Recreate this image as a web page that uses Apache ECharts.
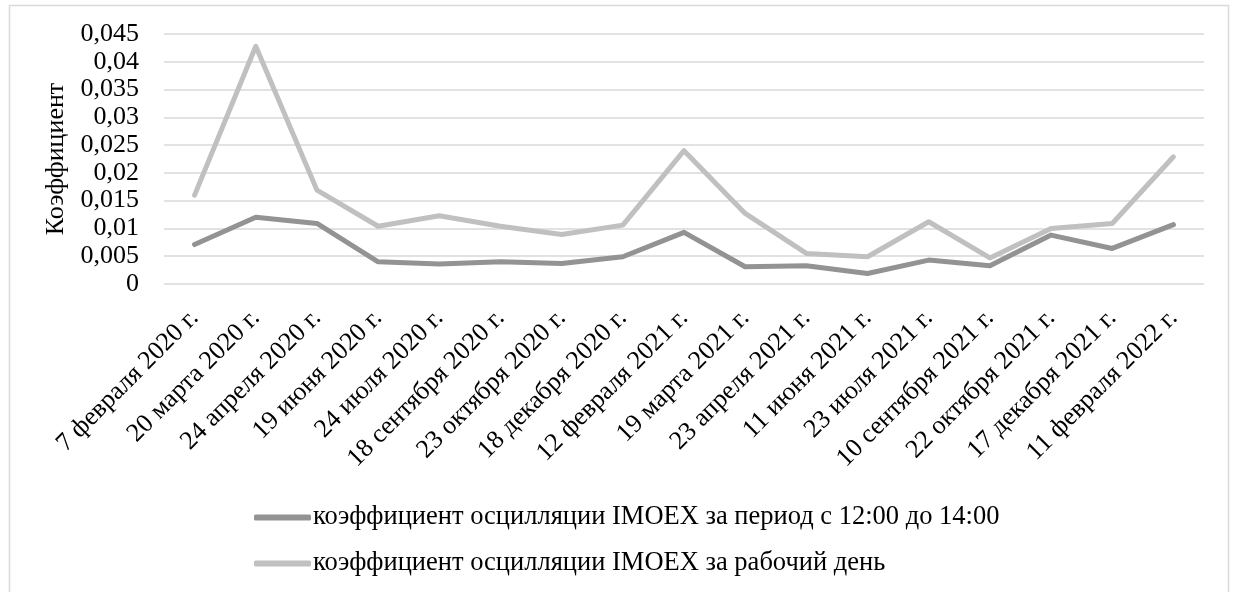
<!DOCTYPE html>
<html><head><meta charset="utf-8">
<script src="https://cdn.jsdelivr.net/npm/echarts@6/dist/echarts.min.js"></script>
<style>html,body{margin:0;padding:0;background:#fff}#c{width:1235px;height:592px}</style>
</head><body><div id="c"></div>
<script>
const categories = ["7 февраля 2020 г.","20 марта 2020 г.","24 апреля 2020 г.","19 июня 2020 г.","24 июля 2020 г.","18 сентября 2020 г.","23 октября 2020 г.","18 декабря 2020 г.","12 февраля 2021 г.","19 марта 2021 г.","23 апреля 2021 г.","11 июня 2021 г.","23 июля 2021 г.","10 сентября 2021 г.","22 октября 2021 г.","17 декабря 2021 г.","11 февраля 2022 г."];
const seriesNames = ["коэффициент осцилляции IMOEX за период с 12:00 до 14:00","коэффициент осцилляции IMOEX за рабочий день"];
const midday = [0.0071,0.0120,0.0109,0.0040,0.0036,0.0040,0.0037,0.0049,0.0093,0.0031,0.0033,0.0019,0.0043,0.0033,0.0088,0.0064,0.0107];
const fullDay = [0.0160,0.0428,0.0169,0.0104,0.0123,0.0104,0.0089,0.0106,0.0240,0.0127,0.0055,0.0049,0.0112,0.0047,0.0100,0.0109,0.0229];
const yAxisName = "Коэффициент";

const FONT = "Liberation Serif";
const FS = 26;
const chart = echarts.init(document.getElementById('c'));
chart.setOption({
  animation:false,
  backgroundColor:'#fff',
  graphic:[{type:'rect',shape:{x:9.5,y:5.5,width:1219,height:600},style:{fill:'none',stroke:'#d9d9d9',lineWidth:1.5}}],
  grid:{left:164,right:31,top:34,height:250},
  legend:{
    orient:'vertical',left:249,top:499,itemGap:19,itemWidth:57,itemHeight:6,
    icon:'roundRect',
    textStyle:{fontFamily:FONT,fontSize:26.5,color:'#000',padding:[0,0,0,-3]},
    data:seriesNames
  },
  xAxis:{type:'category',data:categories,boundaryGap:true,
    axisLine:{show:false},axisTick:{show:false},
    axisLabel:{interval:0,rotate:45,margin:30,fontFamily:FONT,fontSize:FS,color:'#000'}},
  yAxis:{type:'value',min:0,max:0.045,interval:0.005,
    name:yAxisName,nameLocation:'middle',nameRotate:90,nameGap:92,
    nameTextStyle:{fontFamily:FONT,fontSize:FS,color:'#000'},
    axisLine:{show:false},axisTick:{show:false},
    splitLine:{lineStyle:{color:'#d9d9d9',width:1.5}},
    axisLabel:{margin:25,fontFamily:FONT,fontSize:FS,color:'#000',
      formatter:v=>String(+v.toFixed(3)).replace('.',',')}},
  series:[
    {name:seriesNames[0],type:'line',data:midday,symbol:'none',lineStyle:{color:'#939393',width:5,cap:'round',join:'round'},itemStyle:{color:'#939393'}},
    {name:seriesNames[1],type:'line',data:fullDay,symbol:'none',lineStyle:{color:'#c0c0c0',width:5,cap:'round',join:'round'},itemStyle:{color:'#c0c0c0'}}
  ]
});
</script></body></html>
